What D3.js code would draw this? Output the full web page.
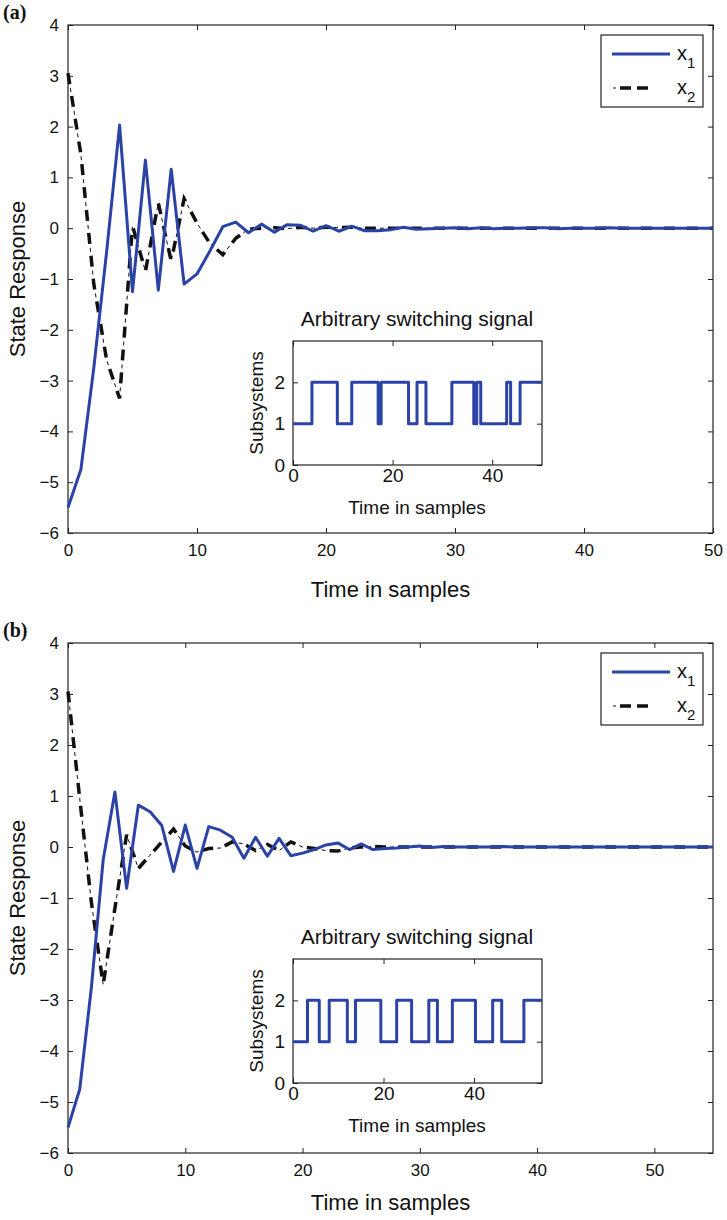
<!DOCTYPE html>
<html>
<head>
<meta charset="utf-8">
<script src="https://cdn.jsdelivr.net/npm/d3@7"></script>
<style>
  body { margin: 0; background: #fff; }
  svg { display: block; }
  text { font-family: "Liberation Sans", Arial, Helvetica, sans-serif; fill: #111; }
</style>
</head>
<body>
<div id="chart"></div>
<script>
// panel (a): samples 0..50
const x1A = [-5.5, -4.75, -2.75, -0.45, 2.03, -1.25, 1.34, -1.22, 1.16, -1.1,
  -0.9, -0.45, 0.03, 0.12, -0.09, 0.08, -0.08, 0.07, 0.06, -0.06,
  0.05, -0.06, 0.04, -0.05, -0.05, -0.03, 0.02, -0.02, -0.01, 0,
  0.01, -0.01, 0.01, -0.01, 0, 0, 0.01, 0.01, -0.01, 0,
  0, 0, 0.01, 0, 0, 0, 0, 0, 0, 0, 0];
const x2A = [3.05, 1.45, -1.1, -2.6, -3.35, 0.05, -0.85, 0.5, -0.65, 0.58,
  0.1, -0.3, -0.52, -0.2, -0.02, 0, 0.01, -0.01, 0.02, 0,
  0.02, 0.01, 0.02, 0, 0, 0, 0, 0, 0, 0,
  0, 0, 0, 0, 0, 0, 0, 0, 0, 0,
  0, 0, 0, 0, 0, 0, 0, 0, 0, 0, 0];
// switching signal (a): switch instants and the subsystem active from then on
const sigATime = [0, 3.8, 8.9, 11.8, 17.1, 17.7, 23.2, 24.9, 26.7, 31.9, 36.3, 36.9, 37.7, 42.9, 43.7, 45.6, 50];
const sigAMode = [1, 2, 1, 2, 1, 2, 1, 2, 1, 2, 1, 2, 1, 2, 1, 2, 2];

// panel (b): samples 0..55
const x1B = [-5.5, -4.75, -2.74, -0.25, 1.08, -0.81, 0.82, 0.69, 0.42, -0.48,
  0.43, -0.42, 0.4, 0.33, 0.19, -0.22, 0.19, -0.18, 0.17, -0.17,
  -0.12, -0.05, 0.04, 0.08, -0.05, 0.06, -0.05, -0.03, -0.02, 0,
  0.02, -0.01, 0.01, 0, 0, 0, 0, 0.01, 0, 0,
  0, 0, 0, 0, 0, 0, 0, 0, 0, 0,
  0, 0, 0, 0, 0, 0];
const x2B = [3.05, 0.95, -1.1, -2.7, -1.2, 0.24, -0.42, -0.16, 0.1, 0.35,
  0.02, -0.1, -0.03, -0.02, 0.1, 0.06, -0.07, 0.05, -0.07, 0.1,
  0, -0.03, -0.07, -0.08, -0.02, 0, 0.01, 0, 0, 0,
  0, 0, 0, 0, 0, 0, 0, 0, 0, 0,
  0, 0, 0, 0, 0, 0, 0, 0, 0, 0,
  0, 0, 0, 0, 0, 0];
const sigBTime = [0, 3.2, 5.8, 8, 12, 13.8, 19.4, 22.9, 26.2, 30, 31.9, 35.2, 40.3, 44.1, 46.1, 51, 55];
const sigBMode = [1, 2, 1, 2, 1, 2, 1, 2, 1, 2, 1, 2, 1, 2, 1, 2, 2];

const yTicks = [-6, -5, -4, -3, -2, -1, 0, 1, 2, 3, 4];
const insetYTicks = [0, 1, 2];
const insetXTicks = [0, 20, 40];

const blue = "#2c43a6";

const svg = d3.select("#chart").append("svg")
  .attr("width", 727)
  .attr("height", 1220);

function boxAxes(g, x, y, xTicks, yTicksList, fontSize, padX, padY) {
  const [x0, x1] = x.range();
  const [y0, y1] = y.range();
  const fmt = d3.format("d");
  g.append("g").attr("transform", `translate(0,${y0})`)
    .call(d3.axisBottom(x).tickValues(xTicks).tickFormat(fmt).tickSizeInner(-5).tickSizeOuter(0).tickPadding(padX))
    .call(a => a.select(".domain").remove())
    .call(a => a.selectAll("text").style("font-size", fontSize + "px").attr("fill", "#111"));
  g.append("g").attr("transform", `translate(0,${y1})`)
    .call(d3.axisTop(x).tickValues(xTicks).tickSizeInner(-5).tickSizeOuter(0).tickFormat(""))
    .call(a => a.select(".domain").remove());
  g.append("g").attr("transform", `translate(${x0},0)`)
    .call(d3.axisLeft(y).tickValues(yTicksList).tickFormat(fmt).tickSizeInner(-5).tickSizeOuter(0).tickPadding(padY))
    .call(a => a.select(".domain").remove())
    .call(a => a.selectAll("text").style("font-size", fontSize + "px").attr("fill", "#111"));
  g.append("g").attr("transform", `translate(${x1},0)`)
    .call(d3.axisRight(y).tickValues(yTicksList).tickSizeInner(-5).tickSizeOuter(0).tickFormat(""))
    .call(a => a.select(".domain").remove());
  g.selectAll(".tick line").attr("stroke", "#222");
  g.append("rect")
    .attr("x", x0).attr("y", y1)
    .attr("width", x1 - x0).attr("height", y0 - y1)
    .attr("fill", "none").attr("stroke", "#222").attr("stroke-width", 1.2);
}

function dashDot(g, pathD) {
  g.append("path").attr("d", pathD)
    .attr("fill", "none").attr("stroke", "#111")
    .attr("stroke-width", 3.5).attr("stroke-dasharray", "11,12");
  g.append("path").attr("d", pathD)
    .attr("fill", "none").attr("stroke", "#111")
    .attr("stroke-width", 1).attr("stroke-dasharray", "0,15,4,4");
}

function drawPanel(p) {
  const g = svg.append("g");
  const x = d3.scaleLinear().domain([0, p.xMax]).range([68, 713]);
  const y = d3.scaleLinear().domain([-6, 4]).range([p.bottom, p.top]);
  const xTicks = d3.range(0, p.xMax + 1, 10);

  boxAxes(g, x, y, xTicks, yTicks, 17, 11, 9);

  const line = d3.line().x((d, i) => x(i)).y(d => y(d));
  dashDot(g, line(p.x2));
  g.append("path").attr("d", line(p.x1))
    .attr("fill", "none").attr("stroke", blue)
    .attr("stroke-width", 3).attr("stroke-linejoin", "round");

  // labels
  g.append("text")
    .attr("x", (68 + 713) / 2).attr("y", p.bottom + p.labelGap)
    .attr("text-anchor", "middle").style("font-size", "22px")
    .text("Time in samples");
  g.append("text")
    .attr("transform", `translate(25,${(p.top + p.bottom) / 2}) rotate(-90)`)
    .attr("text-anchor", "middle").style("font-size", "22px")
    .text("State Response");
  g.append("text")
    .attr("x", 3).attr("y", p.top - 6)
    .style("font-family", "'Liberation Serif', 'Times New Roman', serif")
    .style("font-weight", "bold").style("font-size", "20px")
    .text(p.tag);

  // legend
  const lg = g.append("g").attr("transform", `translate(601,${p.top + 10})`);
  lg.append("rect").attr("width", 102).attr("height", 72)
    .attr("fill", "#fff").attr("stroke", "#222").attr("stroke-width", 1.2);
  lg.append("path").attr("d", "M11,19H69")
    .attr("stroke", blue).attr("stroke-width", 3);
  const l2 = lg.append("g");
  dashDot(l2, "M11,53H69");
  l2.selectAll("path").filter((d, i) => i === 0).attr("stroke-dasharray", "0,8,11,6,11,30");
  l2.selectAll("path").filter((d, i) => i === 1).attr("stroke-dasharray", "0,1,3,23,3,30");
  [["1", 25], ["2", 59]].forEach(([s, yy]) => {
    const t = lg.append("text").attr("x", 76).attr("y", yy).style("font-size", "20px");
    t.append("tspan").text("x");
    t.append("tspan").attr("dy", 8).style("font-size", "15px").text(s);
  });

  // inset with the switching signal
  const ix = d3.scaleLinear().domain([0, p.sigMax]).range([293, 542]);
  const iy = d3.scaleLinear().domain([0, 3]).range([p.insetTop + 124, p.insetTop]);
  const ig = g.append("g");
  ig.append("rect").attr("x", 293).attr("y", p.insetTop)
    .attr("width", 249).attr("height", 124).attr("fill", "#fff");
  boxAxes(ig, ix, iy, insetXTicks, insetYTicks, 19, 3, 8);
  const sig = p.sigTime.map((t, i) => [t, p.sigMode[i]]);
  ig.append("path")
    .attr("d", d3.line().curve(d3.curveStepAfter).x(d => ix(d[0])).y(d => iy(d[1]))(sig))
    .attr("fill", "none").attr("stroke", blue).attr("stroke-width", 3)
    .attr("stroke-linejoin", "round");
  ig.append("text")
    .attr("x", 417).attr("y", p.insetTop - 15)
    .attr("text-anchor", "middle").style("font-size", "21px")
    .text("Arbitrary switching signal");
  ig.append("text")
    .attr("x", 417).attr("y", p.insetTop + 173)
    .attr("text-anchor", "middle").style("font-size", "19px")
    .text("Time in samples");
  ig.append("text")
    .attr("transform", `translate(263,${p.insetTop + 62}) rotate(-90)`)
    .attr("text-anchor", "middle").style("font-size", "19px")
    .text("Subsystems");
}

drawPanel({ tag: "(a)", top: 25, bottom: 533, xMax: 50, labelGap: 64, x1: x1A, x2: x2A,
  insetTop: 341, sigMax: 50, sigTime: sigATime, sigMode: sigAMode });
drawPanel({ tag: "(b)", top: 643, bottom: 1153, xMax: 55, labelGap: 57, x1: x1B, x2: x2B,
  insetTop: 959, sigMax: 55, sigTime: sigBTime, sigMode: sigBMode });
</script>
</body>
</html>
